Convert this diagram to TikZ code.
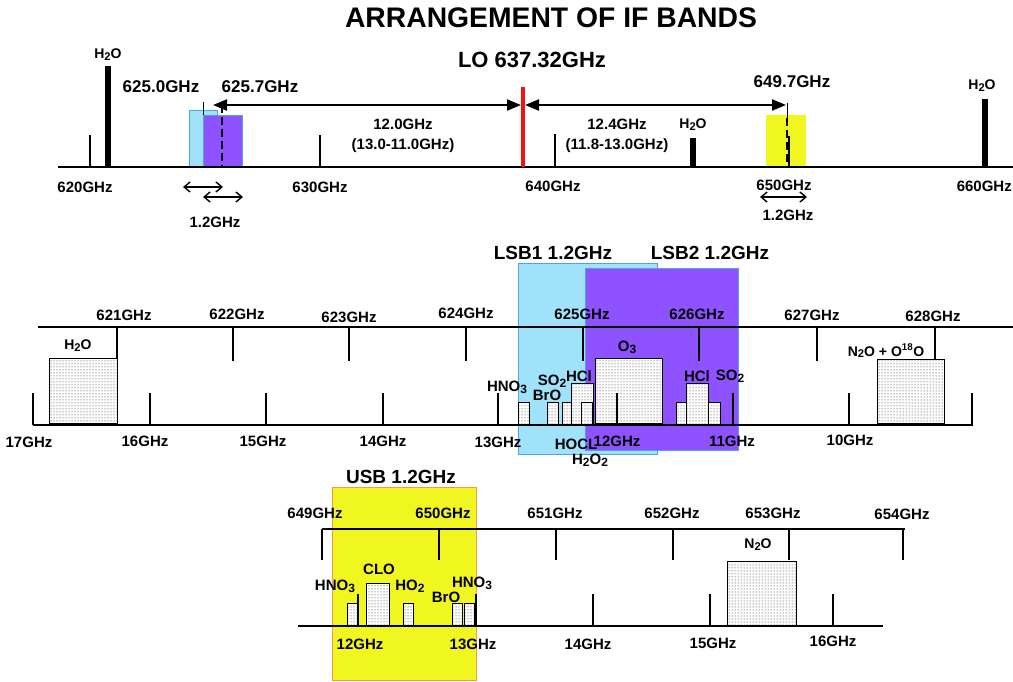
\documentclass[tikz,border=0pt]{standalone}
\usepackage{fontspec}
\usepackage{graphicx}
\setmainfont{Liberation Sans}
\usetikzlibrary{arrows.meta,patterns}
\definecolor{lblue}{RGB}{160,226,250}
\definecolor{lbedge}{RGB}{80,160,240}
\definecolor{lpurple}{RGB}{142,82,255}
\definecolor{lyellow}{RGB}{240,246,32}
\definecolor{uedge}{RGB}{255,150,60}
\definecolor{lored}{RGB}{240,20,20}
\newcommand{\chs}[1]{\raisebox{-0.25ex}{\scalebox{0.8}{#1}}}
\begin{document}
\begin{tikzpicture}[x=1pt,y=-1pt,
  ax/.style={line width=2.5pt},
  tk/.style={line width=2.5pt},
  bar/.style={line width=6pt},
  lab/.style={inner sep=0pt, font=\fontsize{15}{15}\selectfont\bfseries},
  mol/.style={inner sep=0pt, font=\fontsize{15}{15}\selectfont\bfseries},
  h2o/.style={inner sep=0pt, font=\fontsize{14}{14}\selectfont\bfseries},
  freq/.style={inner sep=0pt, font=\fontsize{17}{17}\selectfont\bfseries},
  band/.style={inner sep=0pt, font=\fontsize{19}{19}\selectfont\bfseries},
  dbox/.style={draw=black, line width=0.8pt, preaction={fill=white}, pattern=dots, pattern color=black!90},
  bigarr/.style={line width=2.2pt, {Triangle[length=14pt,width=11pt]}-{Triangle[length=14pt,width=11pt]}},
  smarr/.style={line width=1.4pt, {Straight Barb[length=6pt,width=10pt]}-{Straight Barb[length=6pt,width=10pt]}}
]
\useasboundingbox (0,0) rectangle (1013,682);
% ---------------- title ----------------
\node[inner sep=0pt, font=\fontsize{28.3}{28}\selectfont\bfseries] (title) at (551,18) {ARRANGEMENT OF IF BANDS};
% ---------------- top section ----------------
\fill[lblue, draw=lbedge, line width=0.8pt] (189,110) rectangle (217,167);
\fill[lpurple, draw=lbedge, line width=0.8pt] (203,115) rectangle (242,167);
\fill[lyellow] (766,115) rectangle (806,167);
\draw[line width=1pt] (203,102) -- (203,115);
\draw[line width=1.5pt, dash pattern=on 8pt off 4pt] (222,105) -- (222,167);
\draw[line width=1pt] (787,103) -- (787,118);
\draw[line width=1.5pt, dash pattern=on 8pt off 4pt] (787,118) -- (787,167);
\draw[tk] (90,135) -- (90,167);
\draw[tk] (320,135) -- (320,167);
\draw[tk] (555,134) -- (555,167);
\draw[tk] (789,136) -- (789,167);
\draw[bar] (108,66) -- (108,167);
\draw[bar] (693,138) -- (693,167);
\draw[bar] (985,99) -- (985,167);
\draw[ax] (58,167) -- (1013,167);
\draw[lored, line width=3.5pt] (523,87) -- (523,167);
\coordinate (al) at (213,105);
\coordinate (lol) at (521,105);
\coordinate (lor) at (525,105);
\coordinate (ar) at (786,105);
\draw[bigarr] (al) -- (lol);
\draw[bigarr] (lor) -- (ar);
\coordinate (s1a) at (183,187); \coordinate (s1b) at (223,187);
\coordinate (s2a) at (203,197); \coordinate (s2b) at (243,197);
\coordinate (s3a) at (760,197); \coordinate (s3b) at (807,197);
\draw[smarr] (s1a) -- (s1b);
\draw[smarr] (s2a) -- (s2b);
\draw[smarr] (s3a) -- (s3b);
\node[h2o] (th1) at (108,55) {H\chs{2}O};
\node[h2o] (th2) at (693,125) {H\chs{2}O};
\node[h2o] (th3) at (982,86) {H\chs{2}O};
\node[freq] (f6250) at (161,87) {625.0GHz};
\node[freq] (f6257) at (260,87) {625.7GHz};
\node[freq] (f6497) at (792,82) {649.7GHz};
\node[inner sep=0pt, font=\fontsize{22}{22}\selectfont\bfseries] (lo) at (532,60) {LO 637.32GHz};
\node[lab, align=center] (d1) at (403,136) {12.0GHz\\[5pt](13.0-11.0GHz)};
\node[lab, align=center] (d2) at (617,136) {12.4GHz\\[5pt](11.8-13.0GHz)};
\node[lab] (t620) at (85,187) {620GHz};
\node[lab] (t630) at (320,187) {630GHz};
\node[lab] (t640) at (553,186) {640GHz};
\node[lab] (t650) at (784,185) {650GHz};
\node[lab, anchor=east] (t660) at (1012,186) {660GHz};
\node[lab] (w1) at (215,222) {1.2GHz};
\node[lab] (w2) at (788,215) {1.2GHz};
% ---------------- middle section ----------------
\fill[lblue, draw=lbedge, line width=0.8pt] (518,263) rectangle (657,454);
\fill[lpurple, draw=lbedge, line width=0.8pt] (585,268) rectangle (738,450);
\node[band] (lsb1) at (553,253) {LSB1 1.2GHz};
\node[band] (lsb2) at (710,253) {LSB2 1.2GHz};
\draw[ax] (38,327) -- (1013,327);
\draw[ax] (33,425) -- (973,425);
\foreach \x in {117,233,349,466,583,699,817,935} \draw[tk] (\x,327) -- (\x,361);
\foreach \x in {33,150,266,383,498,617,733,849,972} \draw[tk] (\x,393) -- (\x,425);
\draw[dbox] (49,358) rectangle (117,423);
\draw[dbox] (877,359) rectangle (944,423);
\draw[dbox] (518,402) rectangle (529,424);
\draw[dbox] (547,402) rectangle (558,424);
\draw[dbox] (562,402) rectangle (571,424);
\draw[dbox] (571,383) rectangle (593,424);
\draw[dbox] (581,402) rectangle (592,424);
\draw[dbox] (595,358) rectangle (662,423);
\draw[tk] (617,393) -- (617,424);
\draw[dbox] (676,402) rectangle (686,424);
\draw[dbox] (686,383) rectangle (708,424);
\draw[dbox] (708,402) rectangle (720,424);
\node[lab] (m621) at (124,315) {621GHz};
\node[lab] (m622) at (237,314) {622GHz};
\node[lab] (m623) at (349,317) {623GHz};
\node[lab] (m624) at (466,313) {624GHz};
\node[lab] (m625) at (582,314) {625GHz};
\node[lab] (m626) at (697,314) {626GHz};
\node[lab] (m627) at (812,315) {627GHz};
\node[lab] (m628) at (933,316) {628GHz};
\node[lab] (i17) at (29,442) {17GHz};
\node[lab] (i16) at (145,441) {16GHz};
\node[lab] (i15) at (263,441) {15GHz};
\node[lab] (i14) at (383,441) {14GHz};
\node[lab] (i13) at (498,442) {13GHz};
\node[lab] (i12) at (617,441) {12GHz};
\node[lab] (i11) at (732,441) {11GHz};
\node[lab] (i10) at (850,440) {10GHz};
\node[h2o] (mh2o) at (78,346) {H\chs{2}O};
\node[h2o] (mn2o) at (886,351) {N\chs{2}O + O\textsuperscript{18}O};
\node[mol] (mhno3) at (507,387) {HNO\chs{3}};
\node[mol] (mso2a) at (552,381) {SO\chs{2}};
\node[mol] (mbro) at (547,395) {BrO};
\node[mol] (mhcla) at (579,376) {HCl};
\node[mol] (mo3) at (627,347) {O\chs{3}};
\node[mol] (mhclb) at (697,376) {HCl};
\node[mol] (mso2b) at (730,376) {SO\chs{2}};
\node[mol] (mhocl) at (576,444) {HOCL};
\node[mol] (mh2o2) at (590,460) {H\chs{2}O\chs{2}};
% ---------------- bottom section ----------------
\fill[lyellow, draw=uedge, line width=1pt] (332,487) rectangle (476,680);
\node[band] (usb) at (401,477) {USB 1.2GHz};
\draw[ax] (322,529) -- (905,529);
\draw[ax] (298,626) -- (883,626);
\foreach \x in {322,439,556,673,789,903} \draw[tk] (\x,529) -- (\x,560);
\foreach \x in {358,476,593,710,833} \draw[tk] (\x,594) -- (\x,626);
\draw[dbox] (727,561) rectangle (796,625);
\draw[dbox] (347,603) rectangle (357,625);
\draw[dbox] (366,583) rectangle (389,625);
\draw[dbox] (403,603) rectangle (413,625);
\draw[dbox] (452,603) rectangle (462,625);
\draw[dbox] (464,603) rectangle (474,625);
\node[lab] (b649) at (315,513) {649GHz};
\node[lab] (b650) at (443,513) {650GHz};
\node[lab] (b651) at (555,513) {651GHz};
\node[lab] (b652) at (672,513) {652GHz};
\node[lab] (b653) at (773,513) {653GHz};
\node[lab] (b654) at (902,514) {654GHz};
\node[lab] (c12) at (360,644) {12GHz};
\node[lab] (c13) at (473,644) {13GHz};
\node[lab] (c14) at (588,644) {14GHz};
\node[lab] (c15) at (713,643) {15GHz};
\node[lab] (c16) at (833,641) {16GHz};
\node[h2o] (bn2o) at (758,545) {N\chs{2}O};
\node[mol] (bhno3a) at (335,586) {HNO\chs{3}};
\node[mol] (bclo) at (379,569) {CLO};
\node[mol] (bho2) at (410,586) {HO\chs{2}};
\node[mol] (bbro) at (446,597) {BrO};
\node[mol] (bhno3b) at (472,583) {HNO\chs{3}};
\end{tikzpicture}
\end{document}
